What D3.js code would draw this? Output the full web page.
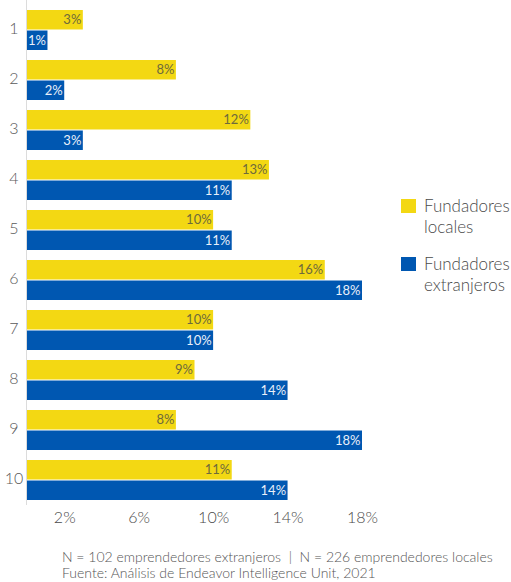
<!DOCTYPE html>
<html>
<head>
<meta charset="utf-8">
<script src="https://cdn.jsdelivr.net/npm/d3@7"></script>
<style>
  body { margin: 0; background: #fff; }
  svg { display: block; font-family: Lato, "Open Sans", sans-serif; font-weight: 300; }
</style>
</head>
<body>
<div id="chart"></div>
<script>
// valeurs (%)
const categories = ["1", "2", "3", "4", "5", "6", "7", "8", "9", "10"];
const locales = [3, 8, 12, 13, 10, 16, 10, 9, 8, 11];
const extranjeros = [1.1, 2, 3, 11, 11, 18, 10, 14, 18, 14];
const tickValues = [2, 6, 10, 14, 18];
const footer = [
    "N = 102 emprendedores extranjeros  |  N = 226 emprendedores locales",
    "Fuente: Análisis de Endeavor Intelligence Unit, 2021"
];

const colors = {locales: "#F3D813", extranjeros: "#0057B1"};
const width = 511;
const height = 582;

const data = categories.map((c, i) => ({cat: c, locales: locales[i], extranjeros: extranjeros[i]}));

const x = d3.scaleLinear().domain([0, 18]).range([27, 362]);
const y = d3.scaleBand().domain(categories).range([10, 500]).paddingInner(0.2).paddingOuter(0);
const ySub = d3.scaleBand().domain(["locales", "extranjeros"]).range([0, y.bandwidth()]).paddingInner(0.05);

const svg = d3.select("#chart").append("svg")
    .attr("width", width)
    .attr("height", height);

// ligne verticale
svg.append("line")
    .attr("x1", x(0) - 0.5).attr("x2", x(0) - 0.5)
    .attr("y1", 0).attr("y2", 505)
    .attr("stroke", "#dcdcdc")
    .attr("stroke-width", 1);

const groups = svg.selectAll(".group")
    .data(data)
    .enter().append("g")
    .attr("class", "group")
    .attr("transform", d => `translate(0,${y(d.cat)})`);

["locales", "extranjeros"].forEach(key => {
    groups.append("rect")
        .attr("x", x(0))
        .attr("y", ySub(key))
        .attr("width", d => x(d[key]) - x(0))
        .attr("height", ySub.bandwidth())
        .attr("fill", colors[key]);

    groups.append("text")
        .attr("x", d => x(d[key]) - 1.5)
        .attr("y", ySub(key) + ySub.bandwidth() / 2)
        .attr("dy", "0.36em")
        .attr("text-anchor", "end")
        .attr("font-size", 13)
        .attr("font-weight", 400)
        .attr("fill", key === "locales" ? "#6e6a3c" : "#e9eff9")
        .text(d => Math.round(d[key]) + "%");
});

// étiquettes des catégories
svg.selectAll(".cat")
    .data(data)
    .enter().append("text")
    .attr("class", "cat")
    .attr("x", 14)
    .attr("y", d => y(d.cat) + y.bandwidth() / 2 - 2)
    .attr("dy", "0.36em")
    .attr("text-anchor", "middle")
    .attr("font-size", 16)
    .attr("fill", "#5a5a5a")
    .text(d => d.cat);

// axe x
const xAxis = d3.axisBottom(x)
    .tickValues(tickValues)
    .tickSize(0)
    .tickPadding(7)
    .tickFormat(d => d + "%");

svg.append("g")
    .attr("class", "x-axis")
    .attr("transform", "translate(0,505)")
    .call(xAxis)
    .call(g => g.select(".domain").remove())
    .call(g => g.selectAll("text")
        .attr("font-family", "Lato, 'Open Sans', sans-serif")
        .attr("font-weight", 300)
        .attr("font-size", 16)
        .attr("fill", "#4a4a4a"));

// légende
const legend = svg.append("g").attr("transform", "translate(401,199)");
const legendItems = [
    {key: "locales", lines: ["Fundadores", "locales"], dy: 0},
    {key: "extranjeros", lines: ["Fundadores", "extranjeros"], dy: 58}
];
legendItems.forEach(item => {
    const g = legend.append("g").attr("transform", `translate(0,${item.dy})`);
    g.append("rect")
        .attr("width", 15).attr("height", 14)
        .attr("fill", colors[item.key]);
    g.selectAll("text")
        .data(item.lines)
        .enter().append("text")
        .attr("x", 23)
        .attr("y", (d, i) => 13 + i * 21)
        .attr("font-size", 17)
        .attr("fill", "#4a4a4a")
        .text(d => d);
});

// note de bas de page
svg.selectAll(".footer")
    .data(footer)
    .enter().append("text")
    .attr("class", "footer")
    .attr("x", 62)
    .attr("y", (d, i) => 562 + i * 16)
    .attr("font-size", 14)
    .attr("fill", "#555")
    .attr("xml:space", "preserve")
    .style("white-space", "pre")
    .text(d => d);
</script>
</body>
</html>
